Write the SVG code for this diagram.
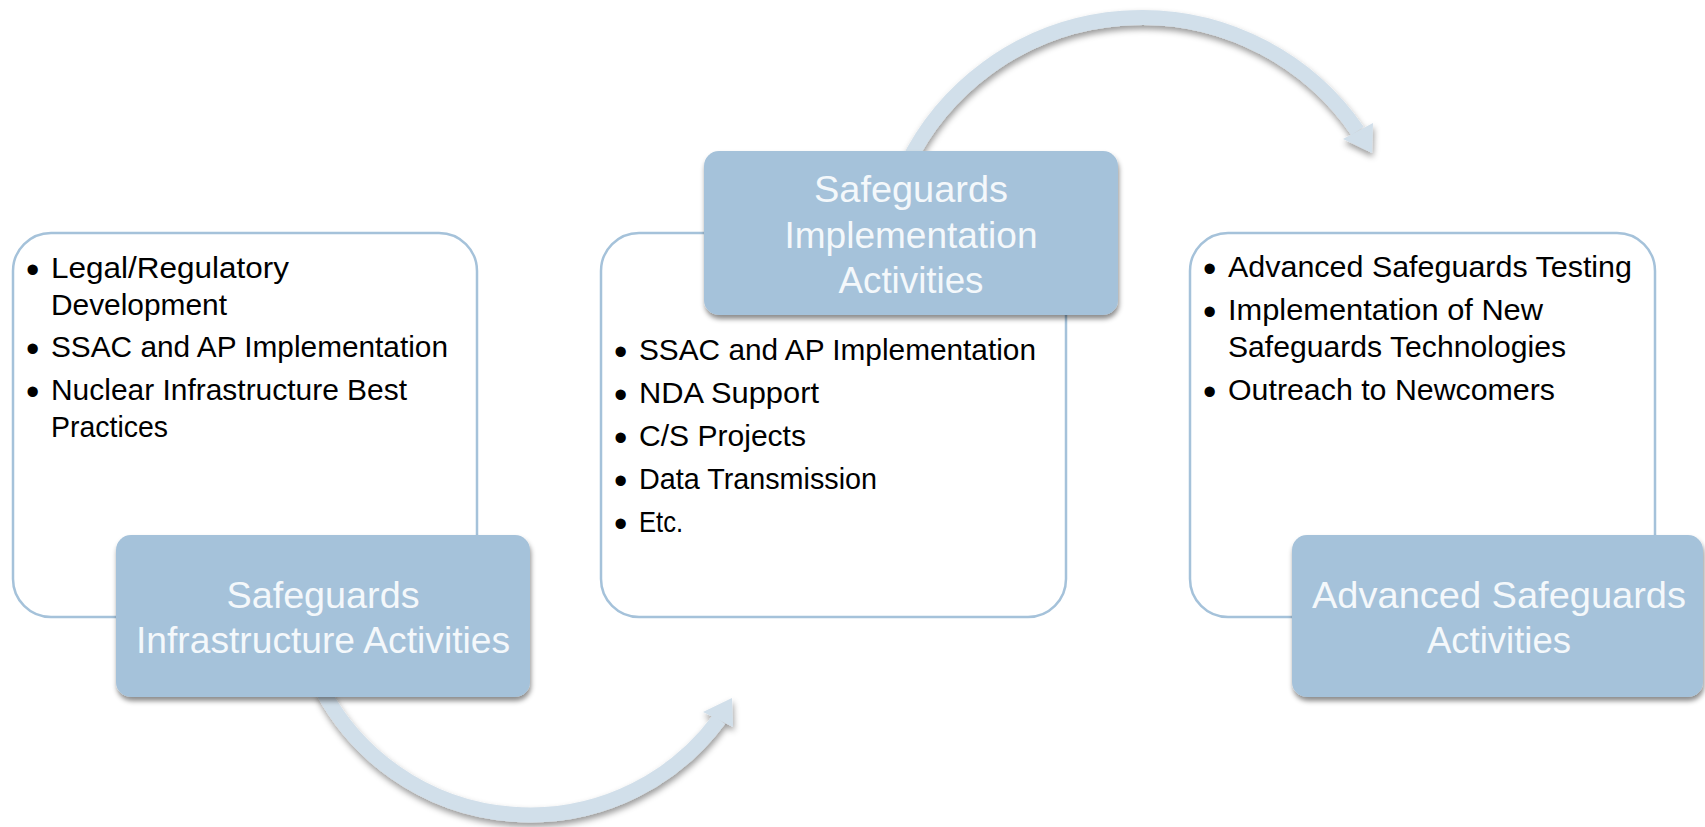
<svg xmlns="http://www.w3.org/2000/svg" width="1705" height="827" viewBox="0 0 1705 827">
  <defs>
    <filter id="shadow" x="-10%" y="-10%" width="120%" height="130%">
      <feDropShadow dx="1" dy="4" stdDeviation="2.5" flood-color="#000" flood-opacity="0.45"/>
    </filter>
    <filter id="arrowShadow" x="-10%" y="-10%" width="120%" height="130%">
      <feDropShadow dx="1" dy="4" stdDeviation="3" flood-color="#000" flood-opacity="0.4"/>
    </filter>
    <style>
      .panel { fill: #ffffff; stroke: #a5c2da; stroke-width: 2.5; }
      .head { fill: #a5c2da; }
      .title { font-family: "Liberation Sans", Arial, sans-serif; font-size: 37px; fill: #f4f8fb; text-anchor: middle; }
      .item { font-family: "Liberation Sans", Arial, sans-serif; font-size: 29px; fill: #000000; }
      .dot { font-family: "Liberation Sans", Arial, sans-serif; font-size: 38px; fill: #000000; }
      .arc { fill: none; stroke: #d1dfea; stroke-width: 15; stroke-linecap: butt; }
      .tip { fill: #d1dfea; }
    </style>
  </defs>

  <rect width="1705" height="827" fill="#ffffff"/>

  <!-- curved arrows between the stages -->
  <g id="connectors">
    <g filter="url(#arrowShadow)">
      <path class="arc" d="M 322.3 690 A 235 235 0 0 0 719 719.5"/>
      <polygon class="tip" points="703,712 732,698 733,727"/>
    </g>
    <g filter="url(#arrowShadow)">
      <path class="arc" d="M 906.6 165 A 261.5 261.5 0 0 1 1357.5 131"/>
      <polygon class="tip" points="1343,139 1373,123 1372,153"/>
    </g>
  </g>

  <!-- stage 1 -->
  <g id="infrastructure">
    <rect class="panel" x="13" y="233" width="464" height="384" rx="38"/>
    <text class="dot" x="26" y="283">•</text>
    <text class="item" x="51" y="278" textLength="238" lengthAdjust="spacingAndGlyphs">Legal/Regulatory</text>
    <text class="item" x="51" y="315" textLength="176" lengthAdjust="spacingAndGlyphs">Development</text>
    <text class="dot" x="26" y="362">•</text>
    <text class="item" x="51" y="357" textLength="397" lengthAdjust="spacingAndGlyphs">SSAC and AP Implementation</text>
    <text class="dot" x="26" y="405">•</text>
    <text class="item" x="51" y="400" textLength="356" lengthAdjust="spacingAndGlyphs">Nuclear Infrastructure Best</text>
    <text class="item" x="51" y="437" textLength="117" lengthAdjust="spacingAndGlyphs">Practices</text>
    <rect class="head" x="116" y="535" width="414" height="162" rx="15" filter="url(#shadow)"/>
    <text class="title" x="323" y="608" textLength="193" lengthAdjust="spacingAndGlyphs">Safeguards</text>
    <text class="title" x="323" y="653" textLength="374" lengthAdjust="spacingAndGlyphs">Infrastructure Activities</text>
  </g>

  <!-- stage 2 -->
  <g id="implementation">
    <rect class="panel" x="601" y="233" width="465" height="384" rx="38"/>
    <text class="dot" x="614" y="365">•</text>
    <text class="item" x="639" y="360" textLength="397" lengthAdjust="spacingAndGlyphs">SSAC and AP Implementation</text>
    <text class="dot" x="614" y="408">•</text>
    <text class="item" x="639" y="403" textLength="180" lengthAdjust="spacingAndGlyphs">NDA Support</text>
    <text class="dot" x="614" y="451">•</text>
    <text class="item" x="639" y="446" textLength="167" lengthAdjust="spacingAndGlyphs">C/S Projects</text>
    <text class="dot" x="614" y="494">•</text>
    <text class="item" x="639" y="489" textLength="238" lengthAdjust="spacingAndGlyphs">Data Transmission</text>
    <text class="dot" x="614" y="537">•</text>
    <text class="item" x="639" y="532" textLength="44" lengthAdjust="spacingAndGlyphs">Etc.</text>
    <rect class="head" x="704" y="151" width="414" height="164" rx="15" filter="url(#shadow)"/>
    <text class="title" x="911" y="202" textLength="194" lengthAdjust="spacingAndGlyphs">Safeguards</text>
    <text class="title" x="911" y="247.5" textLength="253" lengthAdjust="spacingAndGlyphs">Implementation</text>
    <text class="title" x="911" y="293" textLength="145" lengthAdjust="spacingAndGlyphs">Activities</text>
  </g>

  <!-- stage 3 -->
  <g id="advanced">
    <rect class="panel" x="1190" y="233" width="465" height="384" rx="38"/>
    <text class="dot" x="1203" y="282">•</text>
    <text class="item" x="1228" y="277" textLength="404" lengthAdjust="spacingAndGlyphs">Advanced Safeguards Testing</text>
    <text class="dot" x="1203" y="325">•</text>
    <text class="item" x="1228" y="320" textLength="315" lengthAdjust="spacingAndGlyphs">Implementation of New</text>
    <text class="item" x="1228" y="357" textLength="338" lengthAdjust="spacingAndGlyphs">Safeguards Technologies</text>
    <text class="dot" x="1203" y="405">•</text>
    <text class="item" x="1228" y="400" textLength="327" lengthAdjust="spacingAndGlyphs">Outreach to Newcomers</text>
    <rect class="head" x="1292" y="535" width="411" height="162" rx="15" filter="url(#shadow)"/>
    <text class="title" x="1499" y="608" textLength="374" lengthAdjust="spacingAndGlyphs">Advanced Safeguards</text>
    <text class="title" x="1499" y="653" textLength="144" lengthAdjust="spacingAndGlyphs">Activities</text>
  </g>
</svg>
